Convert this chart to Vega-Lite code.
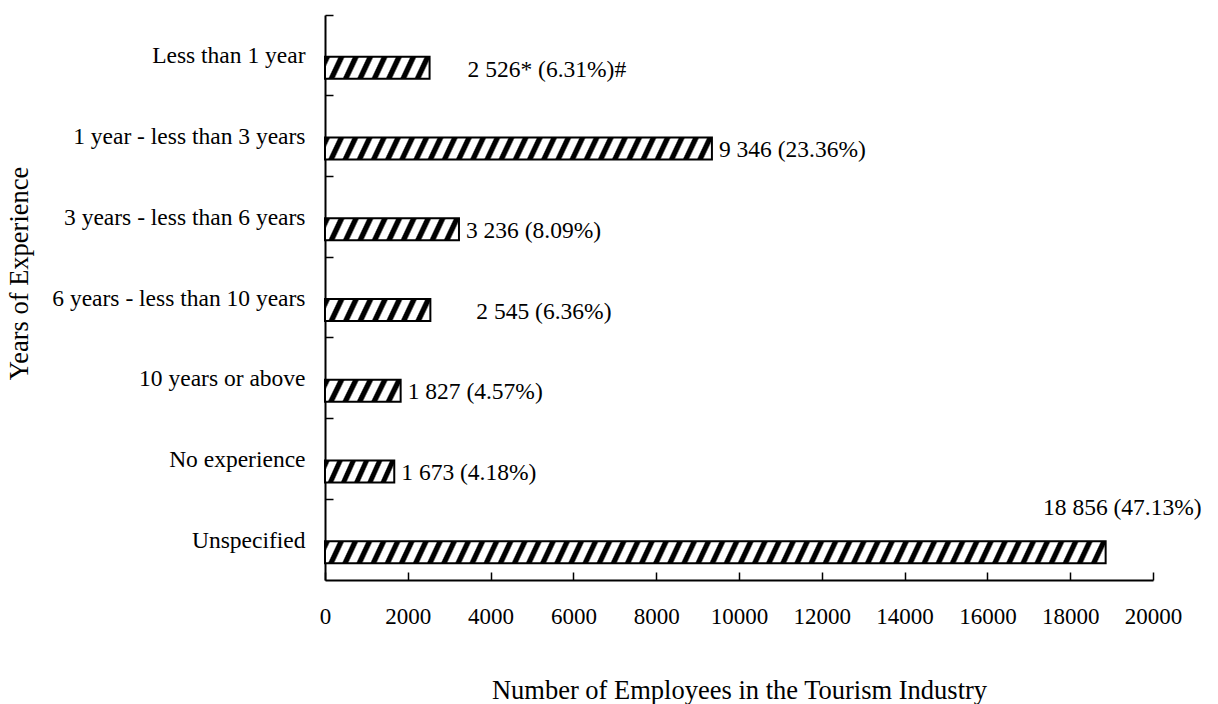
{
  "$schema": "https://vega.github.io/schema/vega-lite/v6.json",
  "width": 828,
  "height": 565,
  "autosize": {"type": "none"},
  "padding": {"left": 325, "top": 15, "right": 65, "bottom": 124},
  "background": "white",
  "config": {
    "view": {"stroke": null},
    "font": "Liberation Serif",
    "axis": {"grid": false}
  },
  "data": {
    "values": [
      {"experience": "Less than 1 year", "employees": 2526, "label": "2 526* (6.31%)#"},
      {"experience": "1 year - less than 3 years", "employees": 9346, "label": "9 346 (23.36%)"},
      {"experience": "3 years - less than 6 years", "employees": 3236, "label": "3 236 (8.09%)"},
      {"experience": "6 years - less than 10 years", "employees": 2545, "label": "2 545 (6.36%)"},
      {"experience": "10 years or above", "employees": 1827, "label": "1 827 (4.57%)"},
      {"experience": "No experience", "employees": 1673, "label": "1 673 (4.18%)"},
      {"experience": "Unspecified", "employees": 18856, "label": "18 856 (47.13%)"}
    ]
  },
  "encoding": {
    "y": {
      "field": "experience",
      "type": "nominal",
      "sort": null,
      "scale": {"paddingInner": 0, "paddingOuter": 0},
      "axis": {
        "title": "Years of Experience",
        "titleFont": "Liberation Serif",
        "titleFontSize": 26.5,
        "titleFontWeight": "normal",
        "titleColor": "black",
        "titleX": -297.7,
        "titleY": 258,
        "titleAngle": -90,
        "titleAlign": "center",
        "titleBaseline": "alphabetic",
        "bandPosition": 0,
        "tickSize": -8,
        "tickWidth": 1.5,
        "tickColor": "black",
        "domainColor": "black",
        "domainWidth": 2,
        "labelFont": "Liberation Serif",
        "labelFontSize": 23.5,
        "labelColor": "black",
        "labelPadding": 28,
        "labelOffset": 1,
        "labelAlign": "right",
        "labelBaseline": "middle",
        "labelLimit": 500
      }
    },
    "x": {
      "field": "employees",
      "type": "quantitative",
      "scale": {"domain": [0, 20000], "nice": false},
      "axis": {
        "title": "Number of Employees in the Tourism Industry",
        "titleFont": "Liberation Serif",
        "titleFontSize": 26.5,
        "titleFontWeight": "normal",
        "titleColor": "black",
        "titleY": 118,
        "titleBaseline": "alphabetic",
        "values": [0, 2000, 4000, 6000, 8000, 10000, 12000, 14000, 16000, 18000, 20000],
        "format": "d",
        "tickSize": -8,
        "tickWidth": 1.5,
        "tickColor": "black",
        "domainColor": "black",
        "domainWidth": 2,
        "labelFont": "Liberation Serif",
        "labelFontSize": 23,
        "labelColor": "black",
        "labelPadding": 33,
        "labelFlush": false,
        "labelOverlap": false
      }
    }
  },
  "layer": [
    {
      "mark": {"type": "bar", "height": 22, "yOffset": 12.5, "stroke": "black", "strokeWidth": 2},
      "encoding": {
        "fill": {
          "condition": [
            {"test": "datum.employees > 15000", "value": {"gradient": "linear", "x1": 0, "y1": 0, "x2": 1.0131, "y2": 0.0134, "stops": [
              {"offset":0,"color":"#000"},{"offset":0.0054,"color":"#000"},{"offset":0.0075,"color":"#fff"},{"offset":0.0161,"color":"#fff"},
              {"offset":0.0179,"color":"#000"},{"offset":0.0232,"color":"#000"},{"offset":0.0254,"color":"#fff"},{"offset":0.0339,"color":"#fff"},
              {"offset":0.0357,"color":"#000"},{"offset":0.0411,"color":"#000"},{"offset":0.0432,"color":"#fff"},{"offset":0.0518,"color":"#fff"},
              {"offset":0.0536,"color":"#000"},{"offset":0.0589,"color":"#000"},{"offset":0.0611,"color":"#fff"},{"offset":0.0696,"color":"#fff"},
              {"offset":0.0714,"color":"#000"},{"offset":0.0768,"color":"#000"},{"offset":0.0789,"color":"#fff"},{"offset":0.0875,"color":"#fff"},
              {"offset":0.0893,"color":"#000"},{"offset":0.0946,"color":"#000"},{"offset":0.0968,"color":"#fff"},{"offset":0.1054,"color":"#fff"},
              {"offset":0.1071,"color":"#000"},{"offset":0.1125,"color":"#000"},{"offset":0.1146,"color":"#fff"},{"offset":0.1232,"color":"#fff"},
              {"offset":0.125,"color":"#000"},{"offset":0.1304,"color":"#000"},{"offset":0.1325,"color":"#fff"},{"offset":0.1411,"color":"#fff"},
              {"offset":0.1429,"color":"#000"},{"offset":0.1482,"color":"#000"},{"offset":0.1504,"color":"#fff"},{"offset":0.1589,"color":"#fff"},
              {"offset":0.1607,"color":"#000"},{"offset":0.1661,"color":"#000"},{"offset":0.1682,"color":"#fff"},{"offset":0.1768,"color":"#fff"},
              {"offset":0.1786,"color":"#000"},{"offset":0.1839,"color":"#000"},{"offset":0.1861,"color":"#fff"},{"offset":0.1946,"color":"#fff"},
              {"offset":0.1964,"color":"#000"},{"offset":0.2018,"color":"#000"},{"offset":0.2039,"color":"#fff"},{"offset":0.2125,"color":"#fff"},
              {"offset":0.2143,"color":"#000"},{"offset":0.2196,"color":"#000"},{"offset":0.2218,"color":"#fff"},{"offset":0.2304,"color":"#fff"},
              {"offset":0.2321,"color":"#000"},{"offset":0.2375,"color":"#000"},{"offset":0.2396,"color":"#fff"},{"offset":0.2482,"color":"#fff"},
              {"offset":0.25,"color":"#000"},{"offset":0.2554,"color":"#000"},{"offset":0.2575,"color":"#fff"},{"offset":0.2661,"color":"#fff"},
              {"offset":0.2679,"color":"#000"},{"offset":0.2732,"color":"#000"},{"offset":0.2754,"color":"#fff"},{"offset":0.2839,"color":"#fff"},
              {"offset":0.2857,"color":"#000"},{"offset":0.2911,"color":"#000"},{"offset":0.2932,"color":"#fff"},{"offset":0.3018,"color":"#fff"},
              {"offset":0.3036,"color":"#000"},{"offset":0.3089,"color":"#000"},{"offset":0.3111,"color":"#fff"},{"offset":0.3196,"color":"#fff"},
              {"offset":0.3214,"color":"#000"},{"offset":0.3268,"color":"#000"},{"offset":0.3289,"color":"#fff"},{"offset":0.3375,"color":"#fff"},
              {"offset":0.3393,"color":"#000"},{"offset":0.3446,"color":"#000"},{"offset":0.3468,"color":"#fff"},{"offset":0.3554,"color":"#fff"},
              {"offset":0.3571,"color":"#000"},{"offset":0.3625,"color":"#000"},{"offset":0.3646,"color":"#fff"},{"offset":0.3732,"color":"#fff"},
              {"offset":0.375,"color":"#000"},{"offset":0.3804,"color":"#000"},{"offset":0.3825,"color":"#fff"},{"offset":0.3911,"color":"#fff"},
              {"offset":0.3929,"color":"#000"},{"offset":0.3982,"color":"#000"},{"offset":0.4004,"color":"#fff"},{"offset":0.4089,"color":"#fff"},
              {"offset":0.4107,"color":"#000"},{"offset":0.4161,"color":"#000"},{"offset":0.4182,"color":"#fff"},{"offset":0.4268,"color":"#fff"},
              {"offset":0.4286,"color":"#000"},{"offset":0.4339,"color":"#000"},{"offset":0.4361,"color":"#fff"},{"offset":0.4446,"color":"#fff"},
              {"offset":0.4464,"color":"#000"},{"offset":0.4518,"color":"#000"},{"offset":0.4539,"color":"#fff"},{"offset":0.4625,"color":"#fff"},
              {"offset":0.4643,"color":"#000"},{"offset":0.4696,"color":"#000"},{"offset":0.4718,"color":"#fff"},{"offset":0.4804,"color":"#fff"},
              {"offset":0.4821,"color":"#000"},{"offset":0.4875,"color":"#000"},{"offset":0.4896,"color":"#fff"},{"offset":0.4982,"color":"#fff"},
              {"offset":0.5,"color":"#000"},{"offset":0.5054,"color":"#000"},{"offset":0.5075,"color":"#fff"},{"offset":0.5161,"color":"#fff"},
              {"offset":0.5179,"color":"#000"},{"offset":0.5232,"color":"#000"},{"offset":0.5254,"color":"#fff"},{"offset":0.5339,"color":"#fff"},
              {"offset":0.5357,"color":"#000"},{"offset":0.5411,"color":"#000"},{"offset":0.5432,"color":"#fff"},{"offset":0.5518,"color":"#fff"},
              {"offset":0.5536,"color":"#000"},{"offset":0.5589,"color":"#000"},{"offset":0.5611,"color":"#fff"},{"offset":0.5696,"color":"#fff"},
              {"offset":0.5714,"color":"#000"},{"offset":0.5768,"color":"#000"},{"offset":0.5789,"color":"#fff"},{"offset":0.5875,"color":"#fff"},
              {"offset":0.5893,"color":"#000"},{"offset":0.5946,"color":"#000"},{"offset":0.5968,"color":"#fff"},{"offset":0.6054,"color":"#fff"},
              {"offset":0.6071,"color":"#000"},{"offset":0.6125,"color":"#000"},{"offset":0.6146,"color":"#fff"},{"offset":0.6232,"color":"#fff"},
              {"offset":0.625,"color":"#000"},{"offset":0.6304,"color":"#000"},{"offset":0.6325,"color":"#fff"},{"offset":0.6411,"color":"#fff"},
              {"offset":0.6429,"color":"#000"},{"offset":0.6482,"color":"#000"},{"offset":0.6504,"color":"#fff"},{"offset":0.6589,"color":"#fff"},
              {"offset":0.6607,"color":"#000"},{"offset":0.6661,"color":"#000"},{"offset":0.6682,"color":"#fff"},{"offset":0.6768,"color":"#fff"},
              {"offset":0.6786,"color":"#000"},{"offset":0.6839,"color":"#000"},{"offset":0.6861,"color":"#fff"},{"offset":0.6946,"color":"#fff"},
              {"offset":0.6964,"color":"#000"},{"offset":0.7018,"color":"#000"},{"offset":0.7039,"color":"#fff"},{"offset":0.7125,"color":"#fff"},
              {"offset":0.7143,"color":"#000"},{"offset":0.7196,"color":"#000"},{"offset":0.7218,"color":"#fff"},{"offset":0.7304,"color":"#fff"},
              {"offset":0.7321,"color":"#000"},{"offset":0.7375,"color":"#000"},{"offset":0.7396,"color":"#fff"},{"offset":0.7482,"color":"#fff"},
              {"offset":0.75,"color":"#000"},{"offset":0.7554,"color":"#000"},{"offset":0.7575,"color":"#fff"},{"offset":0.7661,"color":"#fff"},
              {"offset":0.7679,"color":"#000"},{"offset":0.7732,"color":"#000"},{"offset":0.7754,"color":"#fff"},{"offset":0.7839,"color":"#fff"},
              {"offset":0.7857,"color":"#000"},{"offset":0.7911,"color":"#000"},{"offset":0.7932,"color":"#fff"},{"offset":0.8018,"color":"#fff"},
              {"offset":0.8036,"color":"#000"},{"offset":0.8089,"color":"#000"},{"offset":0.8111,"color":"#fff"},{"offset":0.8196,"color":"#fff"},
              {"offset":0.8214,"color":"#000"},{"offset":0.8268,"color":"#000"},{"offset":0.8289,"color":"#fff"},{"offset":0.8375,"color":"#fff"},
              {"offset":0.8393,"color":"#000"},{"offset":0.8446,"color":"#000"},{"offset":0.8468,"color":"#fff"},{"offset":0.8554,"color":"#fff"},
              {"offset":0.8571,"color":"#000"},{"offset":0.8625,"color":"#000"},{"offset":0.8646,"color":"#fff"},{"offset":0.8732,"color":"#fff"},
              {"offset":0.875,"color":"#000"},{"offset":0.8804,"color":"#000"},{"offset":0.8825,"color":"#fff"},{"offset":0.8911,"color":"#fff"},
              {"offset":0.8929,"color":"#000"},{"offset":0.8982,"color":"#000"},{"offset":0.9004,"color":"#fff"},{"offset":0.9089,"color":"#fff"},
              {"offset":0.9107,"color":"#000"},{"offset":0.9161,"color":"#000"},{"offset":0.9182,"color":"#fff"},{"offset":0.9268,"color":"#fff"},
              {"offset":0.9286,"color":"#000"},{"offset":0.9339,"color":"#000"},{"offset":0.9361,"color":"#fff"},{"offset":0.9446,"color":"#fff"},
              {"offset":0.9464,"color":"#000"},{"offset":0.9518,"color":"#000"},{"offset":0.9539,"color":"#fff"},{"offset":0.9625,"color":"#fff"},
              {"offset":0.9643,"color":"#000"},{"offset":0.9696,"color":"#000"},{"offset":0.9718,"color":"#fff"},{"offset":0.9804,"color":"#fff"},
              {"offset":0.9821,"color":"#000"},{"offset":0.9875,"color":"#000"},{"offset":0.9896,"color":"#fff"},{"offset":0.9982,"color":"#fff"}
            ]}},
            {"test": "datum.employees > 5000", "value": {"gradient": "linear", "x1": 0, "y1": 0, "x2": 1.026, "y2": 0.0275, "stops": [
              {"offset":0,"color":"#000"},{"offset":0.0107,"color":"#000"},{"offset":0.015,"color":"#fff"},{"offset":0.0321,"color":"#fff"},
              {"offset":0.0357,"color":"#000"},{"offset":0.0464,"color":"#000"},{"offset":0.0507,"color":"#fff"},{"offset":0.0679,"color":"#fff"},
              {"offset":0.0714,"color":"#000"},{"offset":0.0821,"color":"#000"},{"offset":0.0864,"color":"#fff"},{"offset":0.1036,"color":"#fff"},
              {"offset":0.1071,"color":"#000"},{"offset":0.1179,"color":"#000"},{"offset":0.1221,"color":"#fff"},{"offset":0.1393,"color":"#fff"},
              {"offset":0.1429,"color":"#000"},{"offset":0.1536,"color":"#000"},{"offset":0.1579,"color":"#fff"},{"offset":0.175,"color":"#fff"},
              {"offset":0.1786,"color":"#000"},{"offset":0.1893,"color":"#000"},{"offset":0.1936,"color":"#fff"},{"offset":0.2107,"color":"#fff"},
              {"offset":0.2143,"color":"#000"},{"offset":0.225,"color":"#000"},{"offset":0.2293,"color":"#fff"},{"offset":0.2464,"color":"#fff"},
              {"offset":0.25,"color":"#000"},{"offset":0.2607,"color":"#000"},{"offset":0.265,"color":"#fff"},{"offset":0.2821,"color":"#fff"},
              {"offset":0.2857,"color":"#000"},{"offset":0.2964,"color":"#000"},{"offset":0.3007,"color":"#fff"},{"offset":0.3179,"color":"#fff"},
              {"offset":0.3214,"color":"#000"},{"offset":0.3321,"color":"#000"},{"offset":0.3364,"color":"#fff"},{"offset":0.3536,"color":"#fff"},
              {"offset":0.3571,"color":"#000"},{"offset":0.3679,"color":"#000"},{"offset":0.3721,"color":"#fff"},{"offset":0.3893,"color":"#fff"},
              {"offset":0.3929,"color":"#000"},{"offset":0.4036,"color":"#000"},{"offset":0.4079,"color":"#fff"},{"offset":0.425,"color":"#fff"},
              {"offset":0.4286,"color":"#000"},{"offset":0.4393,"color":"#000"},{"offset":0.4436,"color":"#fff"},{"offset":0.4607,"color":"#fff"},
              {"offset":0.4643,"color":"#000"},{"offset":0.475,"color":"#000"},{"offset":0.4793,"color":"#fff"},{"offset":0.4964,"color":"#fff"},
              {"offset":0.5,"color":"#000"},{"offset":0.5107,"color":"#000"},{"offset":0.515,"color":"#fff"},{"offset":0.5321,"color":"#fff"},
              {"offset":0.5357,"color":"#000"},{"offset":0.5464,"color":"#000"},{"offset":0.5507,"color":"#fff"},{"offset":0.5679,"color":"#fff"},
              {"offset":0.5714,"color":"#000"},{"offset":0.5821,"color":"#000"},{"offset":0.5864,"color":"#fff"},{"offset":0.6036,"color":"#fff"},
              {"offset":0.6071,"color":"#000"},{"offset":0.6179,"color":"#000"},{"offset":0.6221,"color":"#fff"},{"offset":0.6393,"color":"#fff"},
              {"offset":0.6429,"color":"#000"},{"offset":0.6536,"color":"#000"},{"offset":0.6579,"color":"#fff"},{"offset":0.675,"color":"#fff"},
              {"offset":0.6786,"color":"#000"},{"offset":0.6893,"color":"#000"},{"offset":0.6936,"color":"#fff"},{"offset":0.7107,"color":"#fff"},
              {"offset":0.7143,"color":"#000"},{"offset":0.725,"color":"#000"},{"offset":0.7293,"color":"#fff"},{"offset":0.7464,"color":"#fff"},
              {"offset":0.75,"color":"#000"},{"offset":0.7607,"color":"#000"},{"offset":0.765,"color":"#fff"},{"offset":0.7821,"color":"#fff"},
              {"offset":0.7857,"color":"#000"},{"offset":0.7964,"color":"#000"},{"offset":0.8007,"color":"#fff"},{"offset":0.8179,"color":"#fff"},
              {"offset":0.8214,"color":"#000"},{"offset":0.8321,"color":"#000"},{"offset":0.8364,"color":"#fff"},{"offset":0.8536,"color":"#fff"},
              {"offset":0.8571,"color":"#000"},{"offset":0.8679,"color":"#000"},{"offset":0.8721,"color":"#fff"},{"offset":0.8893,"color":"#fff"},
              {"offset":0.8929,"color":"#000"},{"offset":0.9036,"color":"#000"},{"offset":0.9079,"color":"#fff"},{"offset":0.925,"color":"#fff"},
              {"offset":0.9286,"color":"#000"},{"offset":0.9393,"color":"#000"},{"offset":0.9436,"color":"#fff"},{"offset":0.9607,"color":"#fff"},
              {"offset":0.9643,"color":"#000"},{"offset":0.975,"color":"#000"},{"offset":0.9793,"color":"#fff"},{"offset":0.9964,"color":"#fff"}
            ]}},
            {"test": "datum.employees > 3000", "value": {"gradient": "linear", "x1": 0, "y1": 0, "x2": 1.0708, "y2": 0.0827, "stops": [
              {"offset":0,"color":"#000"},{"offset":0.03,"color":"#000"},{"offset":0.042,"color":"#fff"},{"offset":0.09,"color":"#fff"},
              {"offset":0.1,"color":"#000"},{"offset":0.13,"color":"#000"},{"offset":0.142,"color":"#fff"},{"offset":0.19,"color":"#fff"},
              {"offset":0.2,"color":"#000"},{"offset":0.23,"color":"#000"},{"offset":0.242,"color":"#fff"},{"offset":0.29,"color":"#fff"},
              {"offset":0.3,"color":"#000"},{"offset":0.33,"color":"#000"},{"offset":0.342,"color":"#fff"},{"offset":0.39,"color":"#fff"},
              {"offset":0.4,"color":"#000"},{"offset":0.43,"color":"#000"},{"offset":0.442,"color":"#fff"},{"offset":0.49,"color":"#fff"},
              {"offset":0.5,"color":"#000"},{"offset":0.53,"color":"#000"},{"offset":0.542,"color":"#fff"},{"offset":0.59,"color":"#fff"},
              {"offset":0.6,"color":"#000"},{"offset":0.63,"color":"#000"},{"offset":0.642,"color":"#fff"},{"offset":0.69,"color":"#fff"},
              {"offset":0.7,"color":"#000"},{"offset":0.73,"color":"#000"},{"offset":0.742,"color":"#fff"},{"offset":0.79,"color":"#fff"},
              {"offset":0.8,"color":"#000"},{"offset":0.83,"color":"#000"},{"offset":0.842,"color":"#fff"},{"offset":0.89,"color":"#fff"},
              {"offset":0.9,"color":"#000"},{"offset":0.93,"color":"#000"},{"offset":0.942,"color":"#fff"},{"offset":0.99,"color":"#fff"}
            ]}},
            {"test": "datum.employees > 2000", "value": {"gradient": "linear", "x1": 0, "y1": 0, "x2": 1.088, "y2": 0.1073, "stops": [
              {"offset":0,"color":"#000"},{"offset":0.0375,"color":"#000"},{"offset":0.0525,"color":"#fff"},{"offset":0.1125,"color":"#fff"},
              {"offset":0.125,"color":"#000"},{"offset":0.1625,"color":"#000"},{"offset":0.1775,"color":"#fff"},{"offset":0.2375,"color":"#fff"},
              {"offset":0.25,"color":"#000"},{"offset":0.2875,"color":"#000"},{"offset":0.3025,"color":"#fff"},{"offset":0.3625,"color":"#fff"},
              {"offset":0.375,"color":"#000"},{"offset":0.4125,"color":"#000"},{"offset":0.4275,"color":"#fff"},{"offset":0.4875,"color":"#fff"},
              {"offset":0.5,"color":"#000"},{"offset":0.5375,"color":"#000"},{"offset":0.5525,"color":"#fff"},{"offset":0.6125,"color":"#fff"},
              {"offset":0.625,"color":"#000"},{"offset":0.6625,"color":"#000"},{"offset":0.6775,"color":"#fff"},{"offset":0.7375,"color":"#fff"},
              {"offset":0.75,"color":"#000"},{"offset":0.7875,"color":"#000"},{"offset":0.8025,"color":"#fff"},{"offset":0.8625,"color":"#fff"},
              {"offset":0.875,"color":"#000"},{"offset":0.9125,"color":"#000"},{"offset":0.9275,"color":"#fff"},{"offset":0.9875,"color":"#fff"}
            ]}}
          ],
          "value": {"gradient": "linear", "x1": 0, "y1": 0, "x2": 1.12, "y2": 0.16, "stops": [
            {"offset":0,"color":"#000"},{"offset":0.05,"color":"#000"},{"offset":0.07,"color":"#fff"},{"offset":0.15,"color":"#fff"},
            {"offset":0.1667,"color":"#000"},{"offset":0.2167,"color":"#000"},{"offset":0.2367,"color":"#fff"},{"offset":0.3167,"color":"#fff"},
            {"offset":0.3333,"color":"#000"},{"offset":0.3833,"color":"#000"},{"offset":0.4033,"color":"#fff"},{"offset":0.4833,"color":"#fff"},
            {"offset":0.5,"color":"#000"},{"offset":0.55,"color":"#000"},{"offset":0.57,"color":"#fff"},{"offset":0.65,"color":"#fff"},
            {"offset":0.6667,"color":"#000"},{"offset":0.7167,"color":"#000"},{"offset":0.7367,"color":"#fff"},{"offset":0.8167,"color":"#fff"},
            {"offset":0.8333,"color":"#000"},{"offset":0.8833,"color":"#000"},{"offset":0.9033,"color":"#fff"},{"offset":0.9833,"color":"#fff"}
          ]}
        }
      }
    },
    {
      "transform": [{"filter": {"field": "experience", "oneOf": ["1 year - less than 3 years", "3 years - less than 6 years", "10 years or above", "No experience"]}}],
      "mark": {"type": "text", "align": "left", "baseline": "middle", "dx": 7, "dy": 14, "font": "Liberation Serif", "fontSize": 23.5, "color": "black"},
      "encoding": {"text": {"field": "label", "type": "nominal"}}
    },
    {
      "transform": [{"filter": {"field": "experience", "equal": "Less than 1 year"}}],
      "mark": {"type": "text", "align": "left", "baseline": "middle", "dx": 38, "dy": 15, "font": "Liberation Serif", "fontSize": 23.5, "color": "black"},
      "encoding": {"text": {"field": "label", "type": "nominal"}}
    },
    {
      "transform": [{"filter": {"field": "experience", "equal": "6 years - less than 10 years"}}],
      "mark": {"type": "text", "align": "left", "baseline": "middle", "dx": 46, "dy": 14, "font": "Liberation Serif", "fontSize": 23.5, "color": "black"},
      "encoding": {"text": {"field": "label", "type": "nominal"}}
    },
    {
      "transform": [{"filter": {"field": "experience", "equal": "Unspecified"}}],
      "mark": {"type": "text", "align": "right", "baseline": "middle", "dx": 96, "dy": -31.6, "font": "Liberation Serif", "fontSize": 23.5, "color": "black"},
      "encoding": {"text": {"field": "label", "type": "nominal"}}
    }
  ]
}
